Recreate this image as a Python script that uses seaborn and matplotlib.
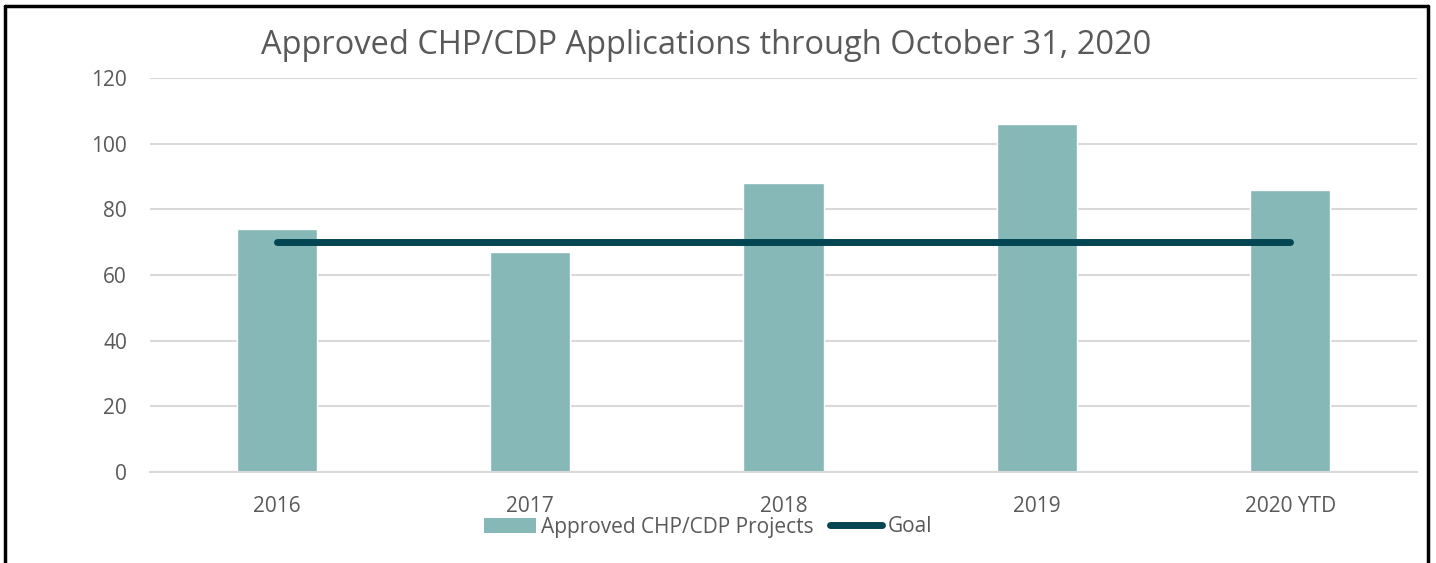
import matplotlib
matplotlib.use("Agg")
import matplotlib.pyplot as plt
import seaborn as sns
import pandas as pd
from matplotlib.patches import Patch
from matplotlib.lines import Line2D

categories = ["2016", "2017", "2018", "2019", "2020 YTD"]
approved = [74, 67, 88, 106, 86]
goal = [70, 70, 70, 70, 70]
yticks = [0, 20, 40, 60, 80, 100, 120]

bar_color = "#87B8B8"
line_color = "#034552"
text_color = "#595959"
grid_color = "#D9D9D9"

sns.set_style("white")
plt.rcParams['font.family'] = ['Open Sans', 'DejaVu Sans']

df = pd.DataFrame({"year": categories, "approved": approved, "goal": goal})

fig = plt.figure(figsize=(14.36, 5.63), dpi=100)
ax = fig.add_axes([150/1436, 1 - 472/563, (1417-150)/1436, (472-78)/563])

sns.barplot(data=df, x="year", y="approved", color=bar_color, width=0.316,
            saturation=1, ax=ax, zorder=2)
sns.pointplot(data=df, x="year", y="goal", color=line_color, markers="",
              errorbar=None, ax=ax, lw=5, solid_capstyle="round", zorder=3)

ax.set_ylim(0, 120)
ax.set_yticks(yticks)
ax.set_xlim(-0.5, len(categories) - 0.5)
ax.yaxis.grid(True, color=grid_color, lw=1.5, zorder=0)
ax.set_axisbelow(True)
for s in ["top", "right", "left"]:
    ax.spines[s].set_visible(False)
ax.spines["bottom"].set_color(grid_color)
ax.spines["bottom"].set_linewidth(1.5)
ax.tick_params(axis="both", length=0, labelsize=15, colors=text_color)
ax.tick_params(axis="x", pad=17)
ax.tick_params(axis="y", pad=16.5)
ax.set_xlabel("")
ax.set_ylabel("")

fig.text(706/1436, 1 - 45/563, "Approved CHP/CDP Applications through October 31, 2020",
         ha="center", va="center", fontsize=23.5, color=text_color)

handles = [Patch(facecolor=bar_color, edgecolor="none", label="Approved CHP/CDP Projects"),
           Line2D([0], [0], color=line_color, lw=5, solid_capstyle="round", label="Goal")]
fig.legend(handles=handles, loc="center", bbox_to_anchor=(708/1436, 1 - 527/563), ncol=2,
           frameon=False, fontsize=15, labelcolor=text_color, handlelength=2.5,
           handletextpad=0.25, columnspacing=0.8, handleheight=0.7)

# outer frame
fig.add_artist(Line2D([5/1436, 5/1436], [0, 1 - 6/563], color="black", lw=2.5, transform=fig.transFigure))
fig.add_artist(Line2D([5/1436, 1428/1436], [1 - 6/563, 1 - 6/563], color="black", lw=2.5, transform=fig.transFigure))
fig.add_artist(Line2D([1428/1436, 1428/1436], [0, 1 - 6/563], color="black", lw=2.5, transform=fig.transFigure))

fig.savefig("out.png", dpi=100)
